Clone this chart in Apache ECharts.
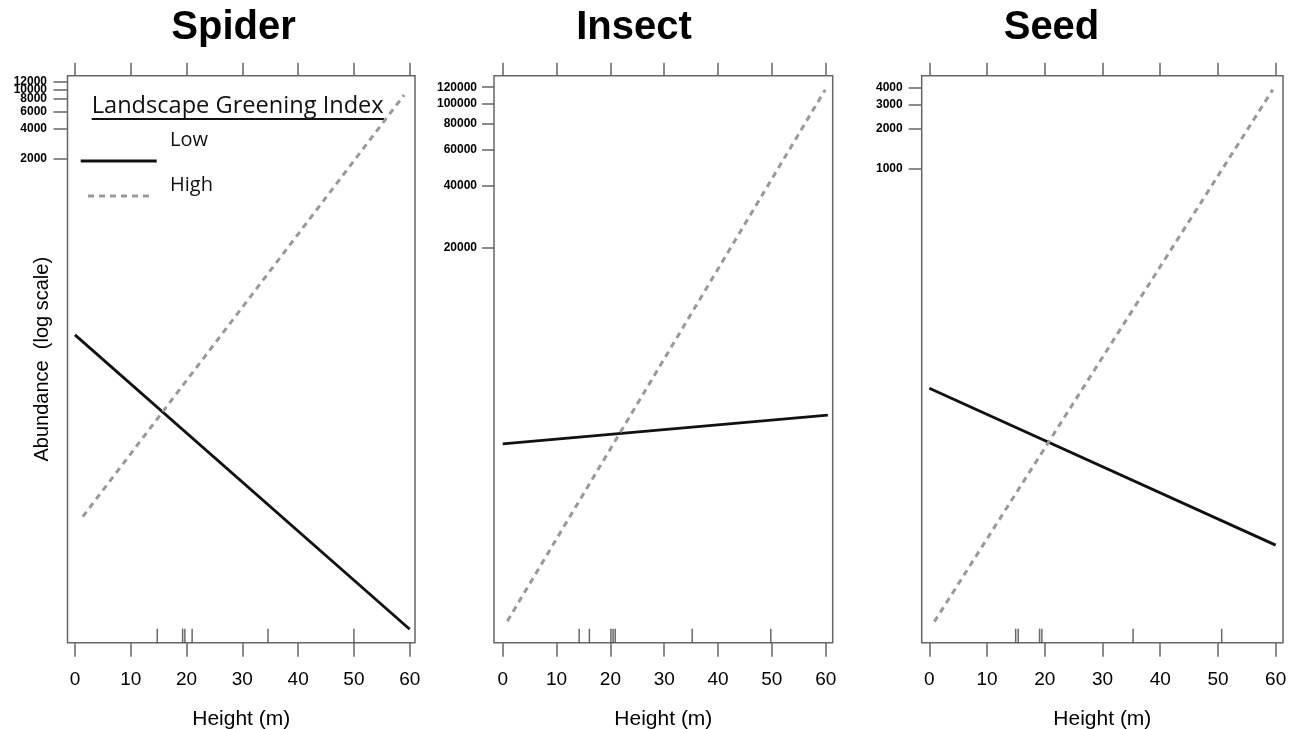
<!DOCTYPE html>
<html>
<head>
<meta charset="utf-8">
<script src="https://cdn.jsdelivr.net/npm/echarts@6/dist/echarts.min.js"></script>
<style>
html,body{margin:0;padding:0;background:#fff;}
#c{width:1292px;height:729px;}
</style>
</head>
<body>
<div id="c"></div>
<script>
// ---- data ----
const panelTitles = ['Spider', 'Insect', 'Seed'];
const xTickLabels = [0, 10, 20, 30, 40, 50, 60];

// abundance (original scale) at line endpoints, x = height (m)
const spiderLowX = [0, 60];     const spiderLowY = [34.4, 0.0384];
const spiderHighX = [1.4, 59.0]; const spiderHighY = [0.517, 8770];
const insectLowX = [0, 60.4];   const insectLowY = [2230, 3080];
const insectHighX = [0.86, 59.9]; const insectHighY = [308, 116600];
const seedLowX = [0, 60];       const seedLowY = [23.1, 1.56];
const seedHighX = [0.87, 59.5]; const seedHighY = [0.419, 3886];

// rug marks (sampled heights)
const spiderRug = [14.75, 19.3, 19.7, 21.0, 34.6, 50.0];
const insectRug = [14.2, 16.1, 20.1, 20.5, 20.9, 35.2, 49.8];
const seedRug = [14.96, 15.4, 19.1, 19.5, 35.3, 50.65];

// y tick labels (abundance)
const spiderTicks = [2000, 4000, 6000, 8000, 10000, 12000];
const insectTicks = [20000, 40000, 60000, 80000, 100000, 120000];
const seedTicks = [1000, 2000, 3000, 4000];

// axis extents (abundance)
const spiderRange = [0.0281, 13700];
const insectRange = [242, 136500];
const seedRange = [0.292, 4940];

// ---- build ----
const L = Math.log10;
const panels = [
  {low: [spiderLowX, spiderLowY], high: [spiderHighX, spiderHighY], rug: spiderRug, ticks: spiderTicks, range: spiderRange,
   grid: {left: 67.5, top: 75.7, width: 347.5, height: 567}, xr: [-1.34, 60.95], lm: 20.5, tl: 14},
  {low: [insectLowX, insectLowY], high: [insectHighX, insectHighY], rug: insectRug, ticks: insectTicks, range: insectRange,
   grid: {left: 494, top: 75.7, width: 338.7, height: 567}, xr: [-1.62, 61.3], lm: 17, tl: 12},
  {low: [seedLowX, seedLowY], high: [seedHighX, seedHighY], rug: seedRug, ticks: seedTicks, range: seedRange,
   grid: {left: 921.7, top: 75.7, width: 361.3, height: 567}, xr: [-1.32, 61.27], lm: 19, tl: 13}
];
const titleX = [233.5, 634, 1051.5];

const frameColor = '#666';
const grid = [], xAxis = [], yAxis = [], series = [], title = [];
const fmt = v => String(Math.round(Math.pow(10, v)));

function makeY(i, p, vals, withName) {
  return {type: 'value', gridIndex: i, position: 'left', min: L(p.range[0]), max: L(p.range[1]),
    axisLine: {show: false, onZero: false}, splitLine: {show: false},
    axisTick: {show: true, customValues: vals, length: p.tl, lineStyle: {color: frameColor, width: 1.5}},
    axisLabel: {customValues: vals, fontSize: 12, fontWeight: 'bold', color: '#000', fontFamily: 'Liberation Sans', margin: p.lm,
      hideOverlap: false, showMinLabel: true, showMaxLabel: true, formatter: fmt},
    name: withName ? 'Abundance  (log scale)' : '', nameLocation: 'middle', nameGap: 15, nameRotate: 90, nameMoveOverlap: false,
    nameTextStyle: {fontSize: 20, color: '#000', fontFamily: 'Liberation Sans'}};
}

panels.forEach((p, i) => {
  grid.push(Object.assign({show: true, borderColor: frameColor, borderWidth: 1.5, backgroundColor: '#fff',
    containLabel: false, outerBoundsMode: 'none'}, p.grid));
  title.push({text: panelTitles[i], left: titleX[i], top: 8, textAlign: 'center', padding: 0,
    textStyle: {fontFamily: 'Liberation Sans', fontWeight: 'bold', fontSize: 40, color: '#000'}});
  xAxis.push({type: 'value', gridIndex: i, position: 'bottom', min: p.xr[0], max: p.xr[1],
    axisLine: {show: false, onZero: false}, splitLine: {show: false},
    axisTick: {show: true, customValues: xTickLabels, length: 14, lineStyle: {color: frameColor, width: 1.5}},
    axisLabel: {customValues: xTickLabels, fontSize: 19, color: '#000', fontFamily: 'Liberation Sans', margin: 28,
      hideOverlap: false},
    name: 'Height (m)', nameLocation: 'middle', nameGap: 66, nameMoveOverlap: false,
    nameTextStyle: {fontSize: 21, color: '#000', fontFamily: 'Liberation Sans'}});
  xAxis.push({type: 'value', gridIndex: i, position: 'top', min: p.xr[0], max: p.xr[1],
    axisLine: {show: false, onZero: false}, splitLine: {show: false}, axisLabel: {show: false},
    axisTick: {show: true, customValues: xTickLabels, length: 13, lineStyle: {color: frameColor, width: 1.5}}});
  // alternate tick labels on two stacked axes so close labels are not dropped
  const tv = p.ticks.map(L);
  const evenVals = tv.filter((v, k) => k % 2 === 0);
  const oddVals = tv.filter((v, k) => k % 2 === 1);
  yAxis.push(makeY(i, p, evenVals, i === 0));
  series.push({type: 'line', name: 'Low', xAxisIndex: 2 * i, yAxisIndex: yAxis.length - 1, symbol: 'none', silent: true,
    data: p.low[0].map((x, k) => [x, L(p.low[1][k])]), lineStyle: {color: '#111', width: 2.8}});
  series.push({type: 'line', name: 'High', xAxisIndex: 2 * i, yAxisIndex: yAxis.length - 1, symbol: 'none', silent: true,
    data: p.high[0].map((x, k) => [x, L(p.high[1][k])]), lineStyle: {color: '#999', width: 3, type: [6, 5]}});
  series.push({type: 'scatter', name: 'rug', xAxisIndex: 2 * i, yAxisIndex: yAxis.length - 1, silent: true, clip: false,
    symbol: 'rect', symbolSize: [1.5, 14], symbolOffset: [0, -7],
    itemStyle: {color: '#444'}, data: p.rug.map(x => [x, L(p.range[0])])});
  yAxis.push(makeY(i, p, oddVals, false));
});

const graphic = [
  {type: 'text', x: 91.7, y: 106.4, style: {text: 'Landscape Greening Index', font: '23.6px "Open Sans"', fill: '#111', verticalAlign: 'middle'}},
  {type: 'line', shape: {x1: 91.7, y1: 119, x2: 384, y2: 119}, style: {stroke: '#111', lineWidth: 2}},
  {type: 'text', x: 170, y: 140.7, style: {text: 'Low', font: '20px "Open Sans"', fill: '#111', verticalAlign: 'middle'}},
  {type: 'line', shape: {x1: 80.7, y1: 161, x2: 156.7, y2: 161}, style: {stroke: '#111', lineWidth: 3}},
  {type: 'text', x: 170, y: 185.7, style: {text: 'High', font: '20px "Open Sans"', fill: '#111', verticalAlign: 'middle'}},
  {type: 'line', shape: {x1: 88, y1: 196, x2: 150, y2: 196}, style: {stroke: '#999', lineWidth: 3, lineDash: [6, 5]}}
];

const chart = echarts.init(document.getElementById('c'), null, {renderer: 'canvas'});
chart.setOption({animation: false, backgroundColor: '#fff', title, grid, xAxis, yAxis, series, graphic});
</script>
</body>
</html>
